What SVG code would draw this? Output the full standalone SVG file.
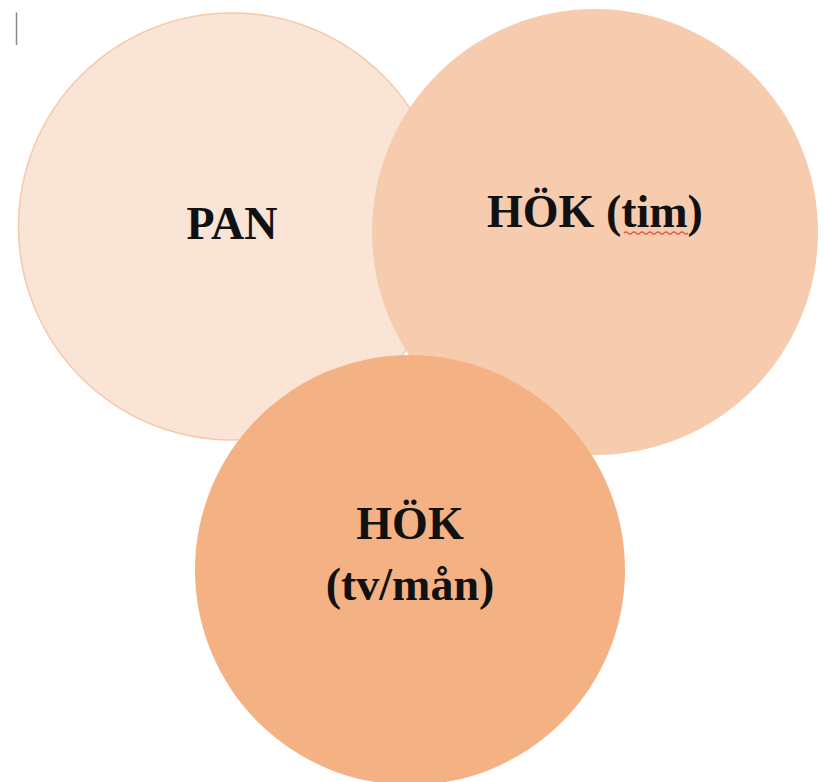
<svg xmlns="http://www.w3.org/2000/svg" width="825" height="782" viewBox="0 0 825 782">
<style>
  .lbl { font-family: "Liberation Serif", "DejaVu Serif", serif; font-weight: bold; font-size: 46px; fill: #111; text-anchor: middle; }
</style>
<rect width="825" height="782" fill="#ffffff"/>
<line x1="16.5" y1="12.5" x2="16.5" y2="45" stroke="#8a8a8a" stroke-width="1.5"/>
<g id="node-pan">
  <circle cx="232" cy="226.5" r="213.5" fill="#FAE4D6" stroke="#F7C8AA" stroke-width="1.5"/>
  <text class="lbl" x="232" y="239">PAN</text>
</g>
<g id="node-hok-tim">
  <circle cx="595" cy="232" r="223" fill="#F7CBAE"/>
  <text class="lbl" x="595" y="227">HÖK (tim)</text>
  <path d="M624 233 q2 -2 4 0 t4 0 t4 0 t4 0 t4 0 t4 0 t4 0 t4 0 t4 0 t4 0 t4 0 t4 0 t4 0 t4 0 t4 0 t4 0" fill="none" stroke="#e8564a" stroke-width="1.2"/>
</g>
<g id="node-hok-tvman">
  <circle cx="410" cy="570" r="215" fill="#F4B184"/>
  <text class="lbl" x="410" y="539">HÖK</text>
  <text class="lbl" x="410" y="600">(tv/mån)</text>
</g>
<g id="connectors"></g>
</svg>
